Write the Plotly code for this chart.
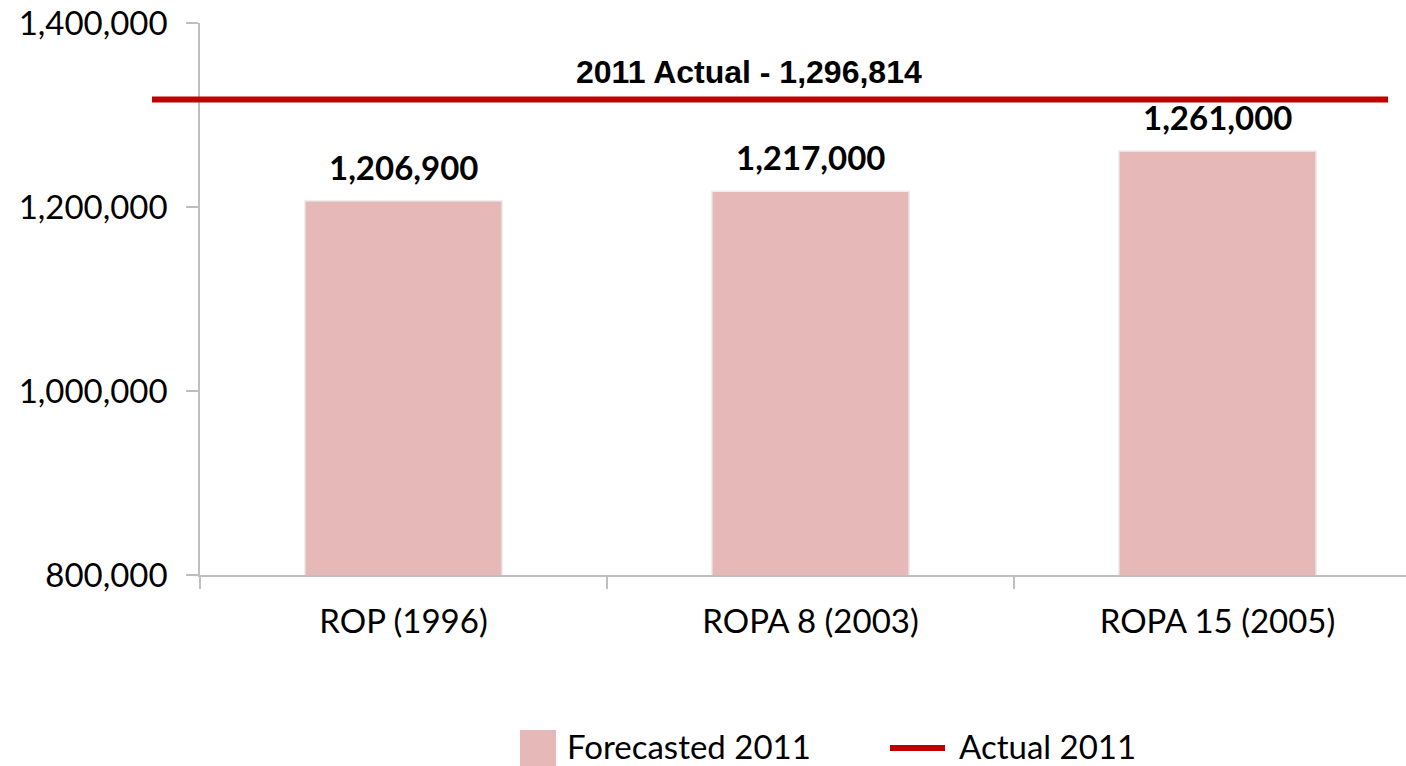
import plotly.graph_objects as go

# Forecasts of the 2011 population versus the actual figure
categories = ["ROP (1996)", "ROPA 8 (2003)", "ROPA 15 (2005)"]
forecasted_2011 = [1206900, 1217000, 1261000]
actual_2011 = 1296814
y_ticks = [800000, 1000000, 1200000, 1400000]

BAR_COLOR = "#E6B9B8"
LINE_COLOR = "#C00000"
AXIS_COLOR = "#BFBFBF"
FONT = "Lato"
FS = 33

W, H = 1406, 766
M_L, M_R, M_T, M_B = 200, 0, 23, 191
plot_w = W - M_L - M_R
plot_h = H - M_T - M_B
cat_px = 407  # width of one category slot


def px_x(px):
    """Horizontal pixel position to paper fraction."""
    return (px - M_L) / plot_w


def px_y(py):
    """Vertical pixel position to paper fraction."""
    return (H - M_B - py) / plot_h


fig = go.Figure()

fig.add_trace(go.Bar(
    x=categories,
    y=forecasted_2011,
    name="Forecasted 2011",
    width=0.485,
    marker=dict(color=BAR_COLOR, line=dict(color="#EEEEEE", width=1.5)),
    showlegend=False,
    hoverinfo="x+y",
))

# value labels above the bars
for c, v in zip(categories, forecasted_2011):
    fig.add_annotation(
        x=c, y=v, xref="x", yref="y",
        text=f"<b>{v:,}</b>", showarrow=False,
        yanchor="middle", yshift=34,
        font=dict(family=FONT, size=FS, color="#000000"),
    )

# actual 2011 reference line on the secondary scale
fig.add_shape(
    type="line", xref="paper", yref="y2",
    x0=px_x(152), x1=px_x(1388), y0=actual_2011, y1=actual_2011,
    line=dict(color=LINE_COLOR, width=6),
)
fig.add_annotation(
    x=px_x(749), y=actual_2011, xref="paper", yref="y2",
    text=f"<b>2011 Actual - {actual_2011:,}</b>", showarrow=False,
    yanchor="middle", yshift=28,
    font=dict(family="Liberation Sans", size=32, color="#000000"),
)

# legend
leg_y = px_y(746)
fig.add_shape(
    type="rect", xref="paper", yref="paper",
    x0=px_x(520), x1=px_x(556), y0=px_y(730), y1=px_y(766),
    fillcolor=BAR_COLOR, line=dict(width=0),
)
fig.add_annotation(
    x=px_x(565), y=leg_y, xref="paper", yref="paper",
    text="Forecasted 2011", showarrow=False, xanchor="left", yanchor="middle",
    font=dict(family=FONT, size=FS, color="#000000"),
)
fig.add_shape(
    type="line", xref="paper", yref="paper",
    x0=px_x(890), x1=px_x(945), y0=px_y(748), y1=px_y(748),
    line=dict(color=LINE_COLOR, width=6),
)
fig.add_annotation(
    x=px_x(957), y=leg_y, xref="paper", yref="paper",
    text="Actual 2011", showarrow=False, xanchor="left", yanchor="middle",
    font=dict(family=FONT, size=FS, color="#000000"),
)

# secondary scale placing the actual value line
frac = px_y(99.5)
y2_top = 800000 + (actual_2011 - 800000) / frac

fig.update_layout(
    width=W, height=H,
    margin=dict(l=M_L, r=M_R, t=M_T, b=M_B, pad=0),
    paper_bgcolor="white", plot_bgcolor="white",
    font=dict(family=FONT, size=FS, color="#000000"),
    showlegend=False,
    xaxis=dict(
        type="category",
        range=[-0.5, -0.5 + plot_w / cat_px],
        showline=True, linecolor=AXIS_COLOR, linewidth=1.5,
        ticks="outside", tickson="boundaries", ticklen=12,
        tickcolor=AXIS_COLOR, tickwidth=1.5,
        ticklabelstandoff=17,
        showgrid=False, zeroline=False,
        tickfont=dict(family=FONT, size=FS),
    ),
    yaxis=dict(
        range=[800000, 1400000],
        tickvals=y_ticks, tickformat=",d",
        showline=True, linecolor=AXIS_COLOR, linewidth=1.5,
        ticks="outside", ticklen=12, tickcolor=AXIS_COLOR, tickwidth=1.5,
        ticklabelstandoff=12,
        showgrid=False, zeroline=False,
        tickfont=dict(family=FONT, size=FS),
    ),
    yaxis2=dict(
        range=[800000, y2_top], overlaying="y", visible=False,
        showgrid=False, zeroline=False,
    ),
)

fig.write_html("out.html")
